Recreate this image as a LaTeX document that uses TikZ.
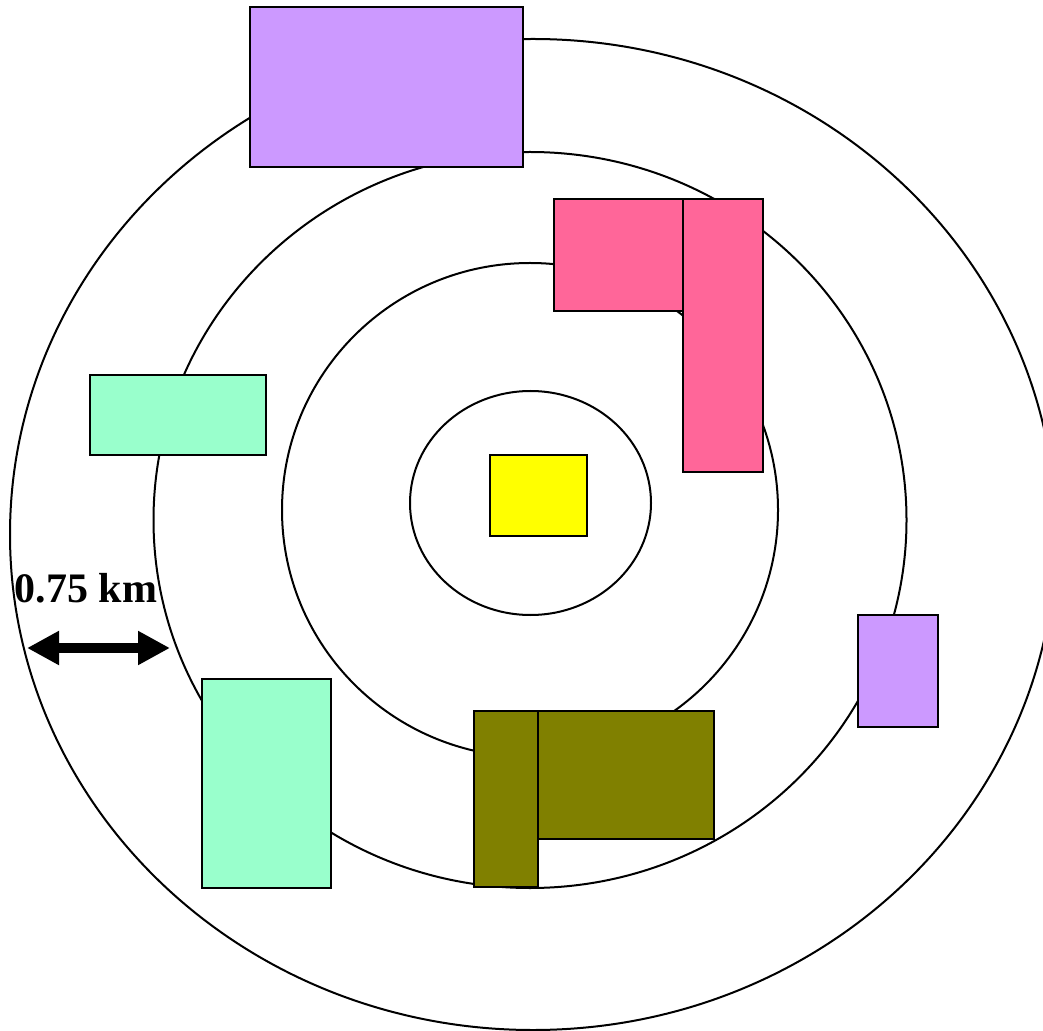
\documentclass[tikz,border=0pt]{standalone}
\usepackage{fontspec}
\setmainfont{Liberation Serif}
\usetikzlibrary{positioning, arrows.meta}
\definecolor{lotpurple}{HTML}{CC99FF}
\definecolor{lotpink}{HTML}{FF6699}
\definecolor{lotteal}{HTML}{99FFCC}
\definecolor{lotyellow}{HTML}{FFFF00}
\definecolor{lotolive}{HTML}{808000}

\begin{document}
\begin{tikzpicture}[x=0.5pt, y=-0.5pt,
    ring/.style={draw, line width=1pt},
    lot/.style={draw, line width=1pt, inner sep=0pt, outer sep=0pt, anchor=north west}]
  \useasboundingbox (0,0) rectangle (1043,1031);
  \clip (0,0) rectangle (1043,1031);
  % zones
  \draw[ring] (533,534.5) ellipse [x radius=523, y radius=495.5];
  \draw[ring] (530,520) ellipse [x radius=376.5, y radius=368];
  \draw[ring] (530,510) ellipse [x radius=248, y radius=247];
  \draw[ring] (530.5,503) ellipse [x radius=120.5, y radius=112];
  % lots
  \node[lot, fill=lotpurple, minimum width=136.5pt, minimum height=80pt] (purpleN) at (250,7) {};
  \node[lot, fill=lotpink, minimum width=64.5pt, minimum height=56pt] (pinkA) at (554,199) {};
  \node[lot, fill=lotpink, minimum width=40pt, minimum height=136.5pt, right=0pt of pinkA.north east, anchor=north west] (pinkB) {};
  \node[lot, fill=lotteal, minimum width=88pt, minimum height=40pt] (tealW) at (90,375) {};
  \node[lot, fill=lotyellow, minimum width=48.5pt, minimum height=40.5pt] (core) at (490,455) {};
  \node[lot, fill=lotpurple, minimum width=40pt, minimum height=56pt] (purpleE) at (858,615) {};
  \node[lot, fill=lotteal, minimum width=64.5pt, minimum height=104.5pt] (tealS) at (202,679) {};
  \node[lot, fill=lotolive, minimum width=88pt, minimum height=64pt] (oliveB) at (538,711) {};
  \node[lot, fill=lotolive, minimum width=32pt, minimum height=88pt, left=0pt of oliveB.north west, anchor=north east] (oliveA) {};
  % scale
  \coordinate (spanL) at (27,648);
  \coordinate (spanR) at (170,648);
  \draw[line width=5pt, {Triangle[length=16pt,width=16pt]}-{Triangle[length=16pt,width=16pt]}] (spanL) -- (spanR);
  \node[font=\bfseries\fontsize{21}{24}\selectfont, anchor=base, inner sep=0pt] (span) at (86,602) {0.75 km};
\end{tikzpicture}
\end{document}
